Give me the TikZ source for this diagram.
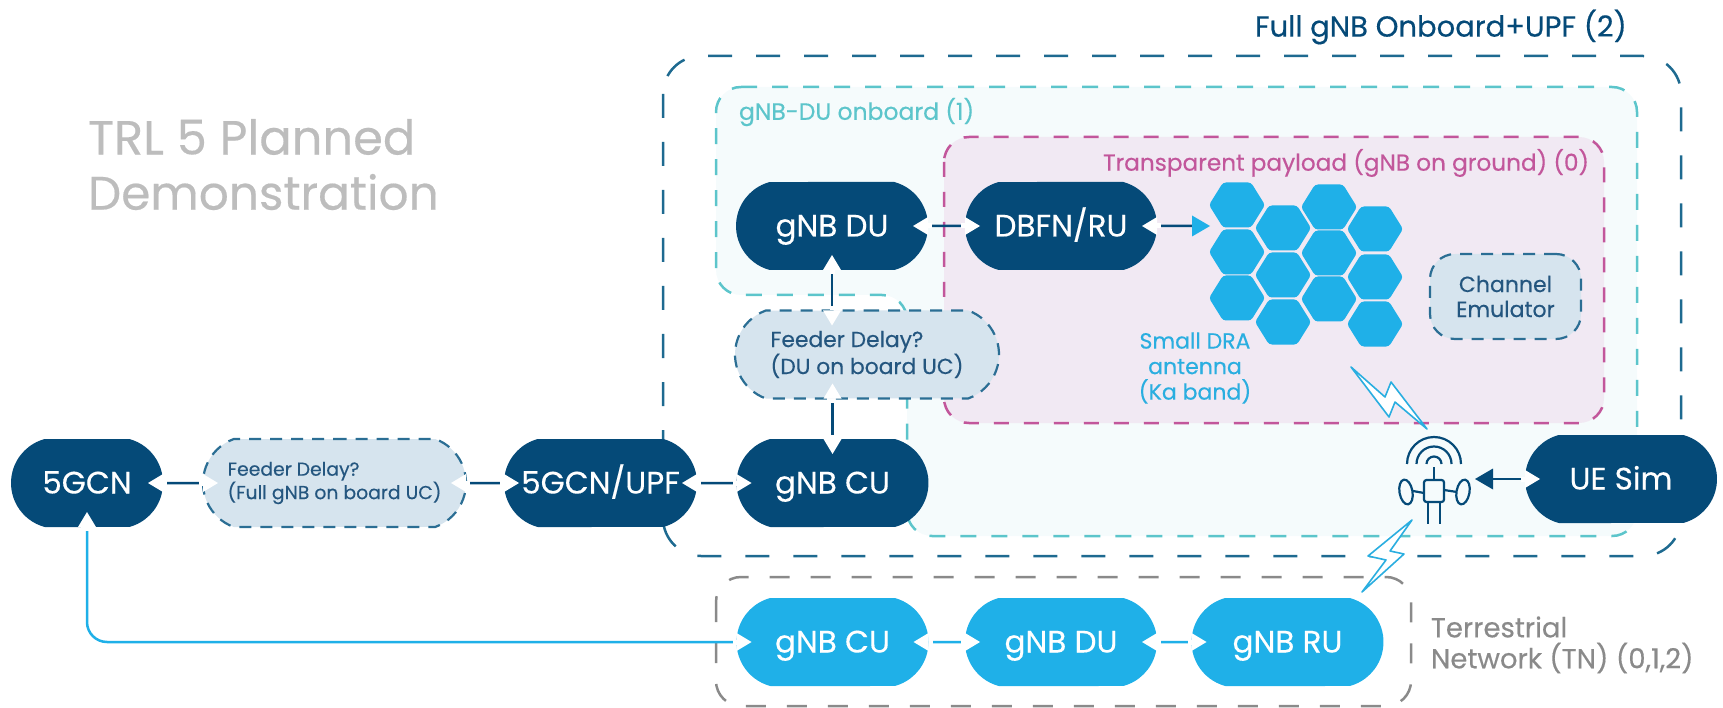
\documentclass[tikz,border=0pt]{standalone}
\usepackage{fontspec}
\setmainfont{Poppins}[FakeBold=0.35]
\usepackage{xcolor}
\usepackage{tikz}
\usetikzlibrary{shapes.misc, arrows.meta, positioning}
\definecolor{navy}{HTML}{054A78}
\definecolor{sky}{HTML}{1FB0E8}
\definecolor{skytext}{HTML}{2AAEE0}
\definecolor{fulledge}{HTML}{1E6A90}
\definecolor{teal}{HTML}{5CC5CB}
\definecolor{tealfill}{HTML}{F5FBFC}
\definecolor{pinkedge}{HTML}{C2569B}
\definecolor{pinkfill}{HTML}{F1E9F3}
\definecolor{delayfill}{HTML}{D6E4EE}
\definecolor{delayedge}{HTML}{2B6E94}
\definecolor{delaytext}{HTML}{24567F}
\definecolor{tngrey}{HTML}{8A8A8A}
\definecolor{titlegrey}{HTML}{BDBDBD}
\newcommand{\fs}[1]{\fontsize{#1}{#1}\selectfont}
\tikzset{
  x=1pt, y=-1pt,
  unit/.style={rounded rectangle, rounded rectangle arc length=150, fill=navy, text=white, minimum width=192pt, minimum height=88pt, inner sep=0pt, outer sep=0pt, text height=21pt, text depth=0pt, font=\fs{31}},
  tnunit/.style={unit, fill=sky},
  delay/.style={rounded rectangle, rounded rectangle arc length=140, fill=delayfill, draw=delayedge, line width=2.2pt, dash pattern=on 12pt off 9pt, text=delaytext, minimum height=88pt, inner sep=0pt, outer sep=0pt, align=left},
  frame/.style={line width=2.5pt, rounded corners=25pt},
  caption/.style={inner sep=0pt, outer sep=0pt, anchor=west, align=left},
  notch/.tip={Triangle[white, length=15pt, width=18pt, line width=0pt, sep=0pt]},
  gap/.tip={Rectangle[white, length=4pt, width=5pt, line width=0pt, sep=0pt]},
  link/.style={draw=navy, line width=2.5pt, {notch[]gap[]}-{gap[]notch[]}, shorten <=-15pt, shorten >=-15pt},
  tnlink/.style={link, draw=sky},
  bolt/.style={draw=skytext, fill=white, line width=1.6pt, line join=round},
  hexcell/.style={fill=sky, rounded corners=3pt},
  icon/.style={draw=navy, line width=2.2pt},
}
\begin{document}
\begin{tikzpicture}
    \useasboundingbox (0,0) rectangle (1723,708);
    % containers
    \draw[frame, rounded corners=38pt, draw=fulledge, dash pattern=on 24pt off 24pt] (663,56) rectangle (1681,556);
    \draw[frame, draw=teal, fill=tealfill, dash pattern=on 16pt off 15pt] (716,87) -- (1637,87) -- (1637,536) -- (907,536) -- (907,295) -- (716,295) -- cycle;
    \draw[frame, draw=pinkedge, fill=pinkfill, dash pattern=on 15pt off 15pt] (944,137) rectangle (1604,423);
    \draw[frame, draw=tngrey, dash pattern=on 20pt off 21pt] (716,577) rectangle (1411,706);
    % captions
    \node[caption, text=titlegrey, font=\fs{48}] (trla) at (88,137) {TRL 5 Planned};
    \node[caption, text=titlegrey, font=\fs{47}] (trlb) at (88,192) {Demonstration};
    \node[caption, text=navy, font=\fs{29}] (fullcap) at (1255,27) {Full gNB Onboard+UPF (2)};
    \node[caption, text=teal, font=\fs{23.5}] (ducap) at (739,112) {gNB-DU onboard (1)};
    \node[caption, text=pinkedge, font=\fs{23.2}] (tpcap) at (1103,163) {Transparent payload (gNB on ground) (0)};
    \node[caption, text=tngrey, font=\fs{27.5}] (tnaa) at (1431,627) {Terrestrial};
    \node[caption, text=tngrey, font=\fs{27.5}] (tnab) at (1431,658) {Network (TN) (0,1,2)};
    \node[inner sep=0pt, text=skytext, align=center, font=\fontsize{22}{25.5}\selectfont] (dracap) at (1195,368) {Small DRA\\antenna\\(Ka band)};
    % antenna cells
    \foreach \hx/\hy in {1237/205,1237/252,1237/298,1283/228,1283/275,1283/322,1329/207,1329/253,1329/299,1375/229,1375/277,1375/324}
      \fill[hexcell] (\hx-28,\hy) -- (\hx-14,\hy-22.5) -- (\hx+14,\hy-22.5) -- (\hx+28,\hy) -- (\hx+14,\hy+22.5) -- (\hx-14,\hy+22.5) -- cycle;
    % units
    \node[unit, minimum width=152pt] (gcn) at (87,483) {5GCN};
    \node[delay, minimum width=263pt, font=\fontsize{18.8}{21.5}\selectfont] (ffull) at (334.5,483) {Feeder Delay?\\(Full gNB on board UC)};
    \node[unit, minimum width=193pt] (upf) at (600.5,483) {5GCN/UPF};
    \node[unit] (gcu) at (832.5,483) {gNB CU};
    \node[delay, minimum width=264pt, font=\fontsize{21.8}{25}\selectfont] (fdu) at (867,354.5) {Feeder Delay?\\(DU on board UC)};
    \node[unit] (gdu) at (832,226) {gNB DU};
    \node[unit] (dbfn) at (1061,226) {DBFN/RU};
    \node[delay, rounded rectangle arc length=180, rectangle, rounded corners=25pt, minimum width=151pt, minimum height=85pt, font=\fontsize{22}{25}\selectfont, align=center] (chan) at (1505.5,296.5) {Channel\\Emulator};
    \node[unit] (uesim) at (1621,479) {UE Sim};
    \node[tnunit] (tcu) at (832.5,642) {gNB CU};
    \node[tnunit] (tdu) at (1061,642) {gNB DU};
    \node[tnunit] (tru) at (1287.5,642) {gNB RU};
    \coordinate (cells) at (1210,226);
    \coordinate (satin) at (1475,479);
    % satellite
    \foreach \r in {27,17.5,7.5}
      \draw[icon] ({1434-\r},464) arc (180:360:\r);
    \draw[icon] (1434,467) -- (1434,480);
    \draw[icon, rounded corners=2.5pt] (1424,480) rectangle (1444,502);
    \draw[icon] (1428,502) -- (1428,524) (1440,502) -- (1440,524);
    \draw[icon] (1424,493) -- (1413,491) (1444,490) -- (1457,492);
    \draw[icon, rotate around={10:(1406,492)}] (1406,492) ellipse (6.5 and 12.5);
    \draw[icon, rotate around={-10:(1463,492)}] (1463,492) ellipse (6.5 and 12.5);
    % bolts
    \draw[bolt] (1351,367) -- (1385,397) -- (1391,382) -- (1427,429) -- (1395,402) -- (1389,417) -- cycle;
    \draw[bolt] (1412,520) -- (1390,551) -- (1404,554) -- (1362,592) -- (1386,560) -- (1368,556) -- cycle;
    % connectors
    \draw[link] (gcn) -- (ffull);
    \draw[link] (ffull) -- (upf);
    \draw[link] (upf) -- (gcu);
    \draw[link] (gcu.north) -- (gcu.north |- fdu.south);
    \draw[link] (gdu.south) -- (gdu.south |- fdu.north);
    \draw[link] (gdu) -- (dbfn);
    \draw[tnlink, rounded corners=20pt] (gcn.south) |- (tcu.west);
    \draw[tnlink] (tcu) -- (tdu);
    \draw[tnlink] (tdu) -- (tru);
    \draw[draw=navy, line width=2.5pt, {notch[]gap[]}-{Triangle[sky, length=18pt, width=21pt, line width=0pt]}, shorten <=-15pt] (dbfn) -- (cells);
    \draw[draw=navy, line width=2.5pt, {notch[]gap[]}-{Triangle[navy, length=18pt, width=21pt, line width=0pt]}, shorten <=-15pt] (uesim) -- (satin);
\end{tikzpicture}
\end{document}
